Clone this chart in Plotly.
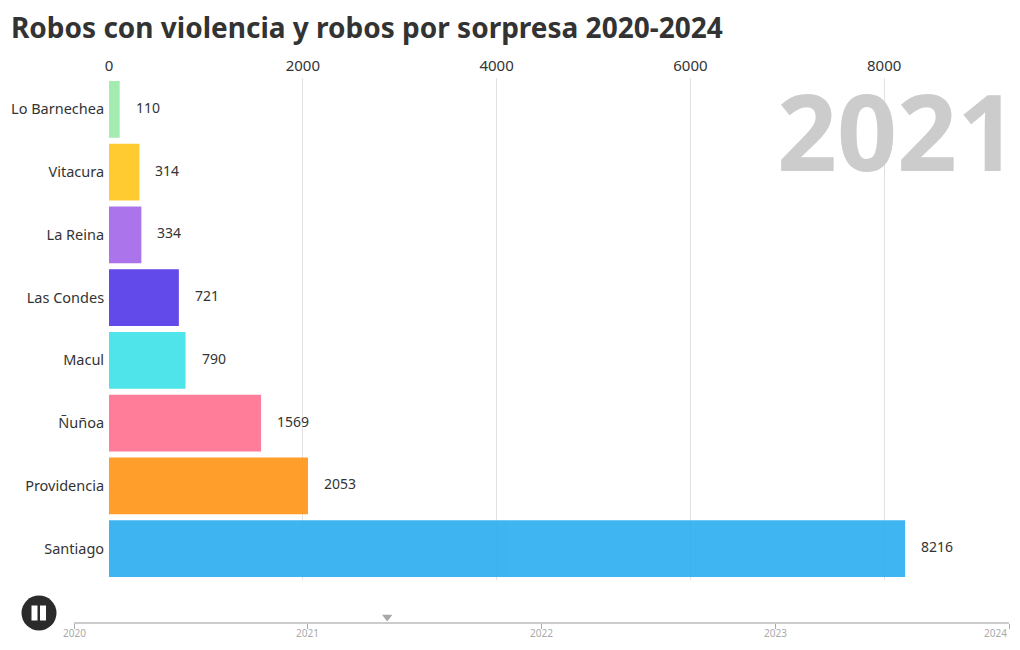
import plotly.graph_objects as go

title = "Robos con violencia y robos por sorpresa 2020-2024"
year_label = "2021"
comunas = ["Lo Barnechea", "Vitacura", "La Reina", "Las Condes", "Macul", "Ñuñoa", "Providencia", "Santiago"]
robos = [110, 314, 334, 721, 790, 1569, 2053, 8216]
colores = ["#9BE9A8", "#FFC61A", "#A366E8", "#5036E8", "#3DE0E8", "#FF6F8E", "#FF9414", "#2AAEF0"]
x_ticks = [0, 2000, 4000, 6000, 8000]
timeline_years = [2020, 2021, 2022, 2023, 2024]
timeline_pos = 2021.34

W, H = 1020, 650
L, R, T, B = 74, 1009, 78, 622   # full plotting frame, px
BAR_L, BAR_B = 109, 580
FONT = "Noto Sans"
INK = "#333333"

def px(x):
    return (x - L) / (R - L)

def py(y):
    return (B - y) / (B - T)

fig = go.Figure()
fig.add_trace(go.Bar(
    x=robos, y=comunas, orientation="h",
    marker=dict(color=colores, line=dict(width=0)), opacity=0.9,
    width=0.905, showlegend=False, hoverinfo="skip",
    xaxis="x", yaxis="y",
))
fig.add_trace(go.Scatter(
    x=[timeline_pos], y=[0.5], mode="markers",
    marker=dict(symbol="triangle-down", size=9, color="#A8A8A8"),
    xaxis="x2", yaxis="y2", showlegend=False, hoverinfo="skip", cliponaxis=False,
))

annotations = [
    dict(text=f"<b>{title}</b>", xref="paper", yref="paper", x=px(9), y=py(27),
         xanchor="left", yanchor="middle", showarrow=False,
         font=dict(family=FONT, size=28, color=INK)),
    dict(text=f"<b>{year_label}</b>", xref="paper", yref="paper", x=px(1019), y=py(130),
         xanchor="right", yanchor="middle", showarrow=False, height=84, valign="middle",
         font=dict(family=FONT, size=105, color="#CCCCCC")),
]
for c, v in zip(comunas, robos):
    annotations.append(dict(text=str(v), x=v, y=c, xref="x", yref="y", xanchor="left",
                            yanchor="middle", xshift=14, yshift=2, showarrow=False,
                            font=dict(family=FONT, size=14, color=INK)))
for yr in timeline_years:
    annotations.append(dict(text=str(yr), x=yr, xref="x2", yref="paper", y=py(633),
                            xanchor="right" if yr == timeline_years[-1] else "center",
                            yanchor="middle", showarrow=False,
                            font=dict(family=FONT, size=10, color="#AAAAAA")))

shapes = [
    dict(type="circle", xref="paper", yref="paper", x0=px(21.5), x1=px(56.5), y0=py(595.5), y1=py(630.5),
         fillcolor="#2B2B2B", line_width=0),
    dict(type="rect", xref="paper", yref="paper", x0=px(31.5), x1=px(37.5), y0=py(605.5), y1=py(620.5),
         fillcolor="#FFFFFF", line_width=0),
    dict(type="rect", xref="paper", yref="paper", x0=px(40), x1=px(46), y0=py(605.5), y1=py(620.5),
         fillcolor="#FFFFFF", line_width=0),
]

fig.update_layout(
    width=W, height=H, autosize=False,
    margin=dict(l=L, r=W - R, t=T, b=H - B, pad=0),
    paper_bgcolor="white", plot_bgcolor="white",
    font=dict(family=FONT, color=INK),
    annotations=annotations, shapes=shapes, showlegend=False,
    xaxis=dict(domain=[px(BAR_L), 1], range=[0, (R - BAR_L) / 0.0969], side="top", anchor="y",
               tickvals=x_ticks, ticks="outside", ticklen=0, tickcolor="rgba(0,0,0,0)",
               showline=False, zeroline=False,
               showgrid=True, gridcolor="#E2E2E2", gridwidth=1,
               tickfont=dict(family=FONT, size=15, color=INK)),
    yaxis=dict(domain=[py(BAR_B), 1], type="category", categoryorder="array", categoryarray=comunas,
               autorange="reversed", anchor="x", ticks="outside", ticklen=1, tickcolor="rgba(0,0,0,0)",
               showline=False, showgrid=False, zeroline=False,
               tickfont=dict(family=FONT, size=14.5, color=INK)),
    xaxis2=dict(domain=[0, 1], range=[timeline_years[0], timeline_years[-1]], anchor="y2",
                tickvals=timeline_years, showticklabels=False, ticks="outside", ticklen=5,
                tickcolor="#AAAAAA", tickwidth=1, showline=True, linecolor="#CCCCCC", linewidth=2,
                showgrid=False, zeroline=False),
    yaxis2=dict(domain=[0, 10 / (B - T)], range=[0, 1], anchor="x2", visible=False),
)

fig.write_html("out.html", post_script="document.body.style.margin='0';",
               config=dict(displayModeBar=False))
